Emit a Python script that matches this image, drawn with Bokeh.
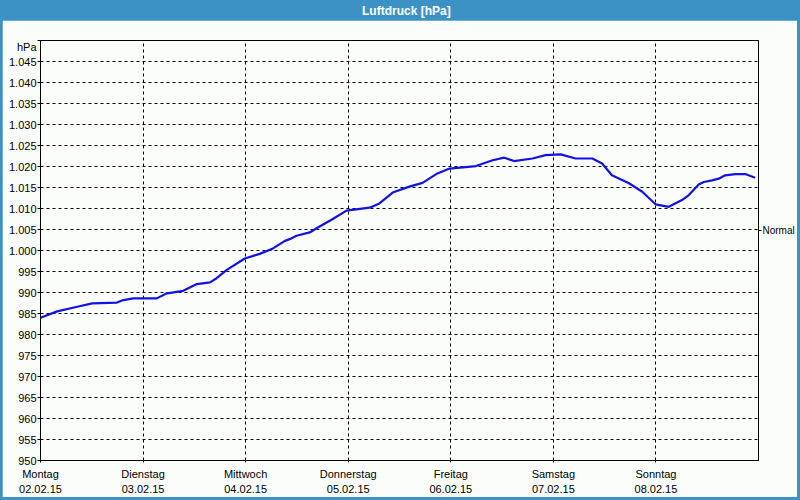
from bokeh.plotting import figure
from bokeh.layouts import column
from bokeh.models import FixedTicker, LinearAxis, Range1d, Label, ColumnDataSource
from bokeh.embed import file_html
from bokeh.resources import INLINE

# ---- data (hours since Mon 02.02.15 00:00, pressure in hPa) ----
hours = [0.0, 3.9, 8.6, 12.1, 17.9, 19.4, 21.7, 27.2, 29.6, 33.4, 36.6, 39.7, 41.2, 43.6,
         47.8, 51.3, 54.4, 57.2, 58.3, 59.9, 63.0, 64.6, 68.4, 71.6, 77.0, 79.3, 82.4,
         86.3, 89.4, 92.6, 95.7, 101.9, 105.8, 108.5, 110.8, 115.1, 118.2, 121.7, 125.2,
         129.1, 131.4, 133.7, 137.7, 140.8, 143.9, 147.0, 150.1, 151.7, 154.0, 155.2,
         157.1, 158.7, 160.2, 162.6, 164.9, 167.2]
pressure = [984.0, 985.5, 986.6, 987.4, 987.6, 988.2, 988.6, 988.6, 989.8, 990.4, 992.0,
            992.4, 993.4, 995.4, 998.1, 999.2, 1000.5, 1002.3, 1002.7, 1003.5, 1004.3,
            1005.3, 1007.5, 1009.5, 1010.2, 1011.2, 1013.8, 1015.2, 1016.1, 1018.2,
            1019.5, 1020.1, 1021.5, 1022.1, 1021.3, 1021.9, 1022.7, 1022.9, 1021.9,
            1021.9, 1020.7, 1017.9, 1016.0, 1014.0, 1011.0, 1010.4, 1012.0, 1013.2,
            1015.7, 1016.3, 1016.7, 1017.1, 1017.9, 1018.2, 1018.2, 1017.3]
day_ticks = [0, 24, 48, 72, 96, 120, 144]
day_names = ["Montag", "Dienstag", "Mittwoch", "Donnerstag", "Freitag", "Samstag", "Sonntag"]
day_dates = ["02.02.15", "03.02.15", "04.02.15", "05.02.15", "06.02.15", "07.02.15", "08.02.15"]
y_ticks = list(range(950, 1055, 5))
y_labels = ["950", "955", "960", "965", "970", "975", "980", "985", "990", "995",
            "1.000", "1.005", "1.010", "1.015", "1.020", "1.025", "1.030", "1.035",
            "1.040", "1.045", "\nhPa"]
normal_value = 1004.8
title_text = "Luftdruck [hPa]"

# ---- layout constants ----
W, H = 800, 500
BAR_H = 20
M_LEFT, M_RIGHT, M_BOTTOM = 2, 3, 3
BG = "#fbfdfb"
BAR = "#3d92c5"
LINE = "#1212e4"
FONT = "Liberation Sans"

# title bar
tb = figure(width=W, height=BAR_H, output_backend="svg", toolbar_location=None,
            x_range=Range1d(0, W), y_range=Range1d(0, BAR_H),
            x_axis_type=None, y_axis_type=None,
            min_border=0, min_border_left=0, min_border_right=0,
            min_border_top=0, min_border_bottom=0,
            background_fill_color=BAR, border_fill_color=BAR, outline_line_color=None)
tb.grid.visible = False
tb.add_layout(Label(x=407, y=BAR_H / 2, text=title_text, text_align="center",
                    text_baseline="middle", text_color="white", text_font=FONT,
                    text_font_style="bold", text_font_size="12px"))

# main chart
MW = W - M_LEFT - M_RIGHT
MH = H - BAR_H - M_BOTTOM
p = figure(width=MW, height=MH, output_backend="svg", toolbar_location=None,
           x_range=Range1d(0, 168), y_range=Range1d(950, 1050),
           min_border_left=40 - M_LEFT, min_border_right=MW - (40 - M_LEFT) - 720,
           min_border_top=40 - BAR_H, min_border_bottom=MH - (40 - BAR_H) - 421,
           background_fill_color=BG, border_fill_color=BG,
           outline_line_color="black", outline_line_width=1)
p.margin = (0, M_RIGHT, M_BOTTOM, M_LEFT)

src = ColumnDataSource(dict(h=hours, p=pressure))
p.line("h", "p", source=src, line_color=LINE, line_width=2.2)

# x axis
xa = p.xaxis[0]
xa.ticker = FixedTicker(ticks=day_ticks)
xa.major_label_overrides = {t: f"{n}\n{d}" for t, n, d in zip(day_ticks, day_names, day_dates)}
xa.minor_tick_line_color = None
xa.major_tick_out = 2
xa.major_tick_in = 0
xa.major_label_standoff = 5
xa.axis_line_color = "black"
xa.major_label_text_font = FONT
xa.major_label_text_font_size = "11px"
xa.major_label_text_color = "black"
xa.major_label_text_line_height = 1.26

# y axis
ya = p.yaxis[0]
ya.ticker = FixedTicker(ticks=y_ticks)
ya.major_label_overrides = {t: l for t, l in zip(y_ticks, y_labels)}
ya.minor_tick_line_color = None
ya.major_tick_out = 3
ya.major_tick_in = 0
ya.major_label_standoff = 1
ya.major_label_text_font = FONT
ya.major_label_text_font_size = "11px"
ya.major_label_text_color = "black"
ya.major_label_text_line_height = 1.0

# right axis with "Normal"
ra = LinearAxis(ticker=FixedTicker(ticks=[normal_value]),
                major_label_overrides={normal_value: "Normal"})
ra.minor_tick_line_color = None
ra.major_tick_out = 3
ra.major_tick_in = 0
ra.major_label_standoff = 1
ra.major_label_text_font = FONT
ra.major_label_text_font_size = "10px"
ra.major_label_text_color = "black"
p.add_layout(ra, "right")

# grids
p.xgrid.ticker = FixedTicker(ticks=day_ticks)
p.ygrid.ticker = FixedTicker(ticks=y_ticks)
for g in (p.xgrid[0], p.ygrid[0]):
    g.grid_line_color = "black"
    g.grid_line_dash = "3 3"
    g.grid_line_width = 1

layout = column(tb, p, spacing=0, styles={"background-color": BAR})

open("out.html", "w").write(file_html(layout, INLINE))
